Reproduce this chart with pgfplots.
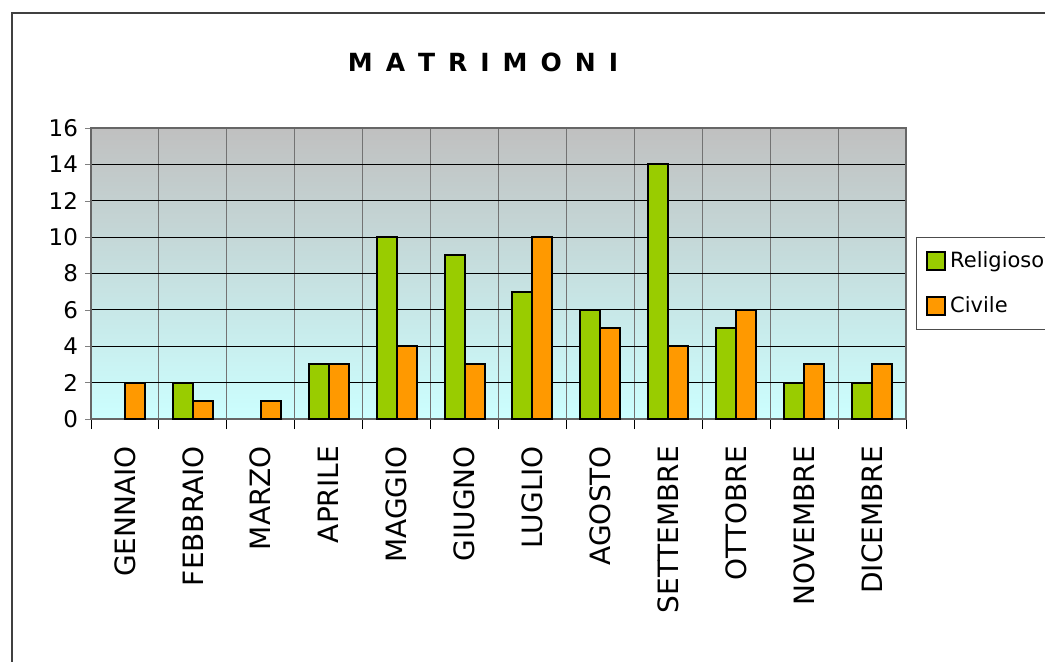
\documentclass[border=0pt]{standalone}
\usepackage{fontspec}
\setmainfont{DejaVu Sans}
\usepackage{pgfplots}
\pgfplotsset{compat=1.18}
\definecolor{religioso}{HTML}{99CC00}
\definecolor{civile}{HTML}{FF9900}
\definecolor{bgtop}{HTML}{C0C0C0}
\definecolor{bgbot}{HTML}{CCFFFF}
\newcommand{\tsp}{\hspace{6.5pt}}
\begin{document}
\begin{tikzpicture}
\useasboundingbox (0,0) rectangle (522.5pt,330.5pt);
% chart frame
\draw[black!75, line width=0.8pt] (6pt,-5pt) -- (6pt,324pt) -- (530pt,324pt);
\node[font=\fontsize{12.5}{15}\selectfont\bfseries] at (241.5pt,299.5pt)
  {M\tsp A\tsp T\tsp R\tsp I\tsp M\tsp O\tsp N\tsp I};
\begin{axis}[
    at={(45.5pt,121pt)}, anchor=south west,
    scale only axis, width=407.5pt, height=145.5pt,
    ybar=0pt, bar width=10pt,
    xmin=-0.5, xmax=11.5, ymin=0, ymax=16,
    xtick={0,...,11},
    xticklabels={GENNAIO,FEBBRAIO,MARZO,APRILE,MAGGIO,GIUGNO,LUGLIO,AGOSTO,SETTEMBRE,OTTOBRE,NOVEMBRE,DICEMBRE},
    xticklabel style={yshift=-7pt, rotate=90, anchor=east, font=\fontsize{14}{16}\selectfont},
    major x tick style={draw=none},
    minor xtick={-0.5,0.5,...,11.5},
    xminorgrids, minor x grid style={black!55, line width=0.5pt},
    minor x tick style={black, line width=0.5pt},
    ytick={0,2,...,16},
    ymajorgrids, major y grid style={black, line width=0.5pt},
    yticklabel style={font=\fontsize{11.5}{13}\selectfont},
    /pgf/number format/assume math mode=true,
    xtick pos=bottom, ytick pos=left,
    tick align=outside, minor tick length=5pt, major tick length=3pt,
    axis line style={black!60, line width=0.8pt},
    axis background/.style={top color=bgtop, bottom color=bgbot},
    legend style={at={(1.012,0.6254)}, anchor=north west, draw=black!70, fill=white,
      font=\fontsize{10.5}{12.5}\selectfont, row sep=9pt, inner sep=5pt,
      nodes={inner xsep=2pt}},
    legend cell align=left,
]
\addplot[fill=religioso, draw=black, line width=1pt,
  legend image code/.code={\draw[fill=religioso, draw=black, line width=1pt] (0pt,-4.5pt) rectangle (9pt,4.5pt);}]
  coordinates {(1,2) (3,3) (4,10) (5,9) (6,7) (7,6) (8,14) (9,5) (10,2) (11,2)};
\addplot[fill=civile, draw=black, line width=1pt,
  legend image code/.code={\draw[fill=civile, draw=black, line width=1pt] (0pt,-4.5pt) rectangle (9pt,4.5pt);}]
  coordinates {(0,2) (1,1) (2,1) (3,3) (4,4) (5,3) (6,10) (7,5) (8,4) (9,6) (10,3) (11,3)};
\legend{Religioso,Civile}
\end{axis}
\end{tikzpicture}
\end{document}
